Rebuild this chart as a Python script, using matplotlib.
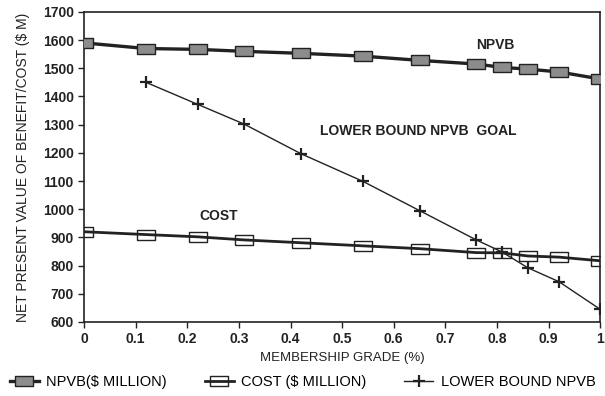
#membership grade vs net present value of benefit / cost (scanned chart rebuild)

import matplotlib
matplotlib.use("Agg")
import matplotlib.pyplot as plt
from matplotlib.lines import Line2D

#data
grade = [0, 0.12, 0.22, 0.31, 0.42, 0.54, 0.65, 0.76, 0.81, 0.86, 0.92, 1.0]
npvb = [1590, 1570, 1567, 1560, 1553, 1543, 1528, 1515, 1503, 1497, 1487, 1462]
cost = [920, 910, 902, 891, 881, 870, 860, 846, 845, 834, 830, 817]

lb_grade = [0.12, 0.22, 0.31, 0.42, 0.54, 0.65, 0.76, 0.81, 0.86, 0.92, 1.0]
lb_npvb = [1450, 1372, 1302, 1197, 1099, 995, 891, 848, 792, 743, 645]

xticks = [0, 0.1, 0.2, 0.3, 0.4, 0.5, 0.6, 0.7, 0.8, 0.9, 1.0]
xticklabels = ['0', '0.1', '0.2', '0.3', '0.4', '0.5', '0.6', '0.7', '0.8', '0.9', '1']
yticks = list(range(600, 1701, 100))

plt.rcParams['font.family'] = ['Liberation Sans', 'DejaVu Sans']

#wide flat box marker like the scanned one
box = [(-1, -0.62), (1, -0.62), (1, 0.62), (-1, 0.62), (-1, -0.62)]

npvb_style = dict(color='#222222', linewidth=2.4, marker=box, markersize=12.5,
                  markerfacecolor='#8c8c8c', markeredgecolor='#222222',
                  markeredgewidth=1.0)
cost_style = dict(color='#222222', linewidth=2.0, marker=box, markersize=12.5,
                  markerfacecolor='none', markeredgecolor='#222222',
                  markeredgewidth=1.0)
lb_style = dict(color='#222222', linewidth=1.0, marker='+', markersize=9,
                markeredgewidth=1.6)

fig = plt.figure(figsize=(6.05, 3.96), dpi=100)
ax = fig.add_axes([0.139, 0.187, 0.853, 0.783])

ax.plot(grade, npvb, zorder=3, **npvb_style)
ax.plot(grade, cost, zorder=3, **cost_style)
ax.plot(lb_grade, lb_npvb, zorder=4, **lb_style)

ax.set_xlim(0, 1.0)
ax.set_ylim(600, 1700)
ax.set_xticks(xticks)
ax.set_xticklabels(xticklabels)
ax.set_yticks(yticks)
for s in ax.spines.values():
    s.set_linewidth(1.2)
    s.set_color('#222222')
ax.tick_params(axis='both', direction='out', length=4, width=1.0,
               labelsize=10, colors='#222222')
for lab in ax.get_xticklabels() + ax.get_yticklabels():
    lab.set_fontweight('bold')

ax.set_xlabel('MEMBERSHIP GRADE (%)', fontsize=9.5, labelpad=4, color='#222222')
ax.set_ylabel('NET PRESENT VALUE OF BENEFIT/COST ($ M)', fontsize=10,
              labelpad=9, color='#222222')

#in-plot annotations
ax.text(0.797, 1583, 'NPVB', fontsize=10, fontweight='bold', ha='center',
        va='center', color='#222222')
ax.text(0.647, 1277, 'LOWER BOUND NPVB  GOAL', fontsize=10, fontweight='bold',
        ha='center', va='center', color='#222222')
ax.text(0.261, 977, 'COST', fontsize=10, fontweight='bold', ha='center',
        va='center', color='#222222')

#legend below the axes
handles = [Line2D([], [], **npvb_style), Line2D([], [], **cost_style),
           Line2D([], [], **lb_style)]
labels = ['NPVB($ MILLION)', 'COST ($ MILLION)', 'LOWER BOUND NPVB']
fig.legend(handles, labels, loc='center', bbox_to_anchor=(0.5, 0.035),
           ncol=3, frameon=False, fontsize=10.5, handlelength=2.0,
           columnspacing=2.6, handletextpad=0.5)

plt.savefig('out.png', dpi=100)
